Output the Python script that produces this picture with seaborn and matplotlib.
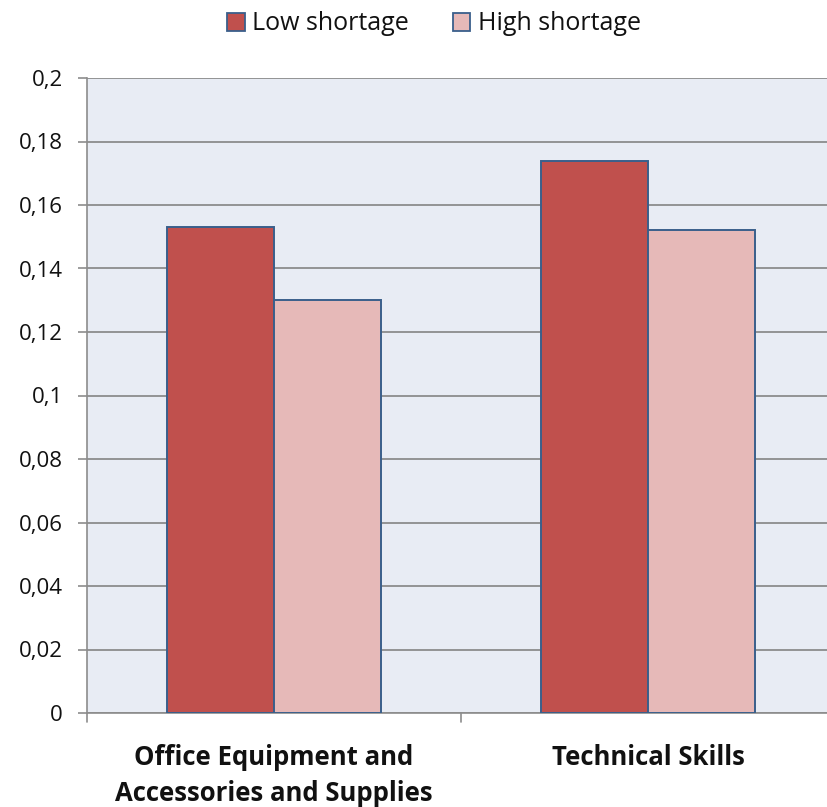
import matplotlib
matplotlib.use("Agg")
import matplotlib.pyplot as plt
import seaborn as sns
import pandas as pd
from matplotlib.patches import Patch

categories = ["Office Equipment and\nAccessories and Supplies", "Technical Skills"]
series = ["Low shortage", "High shortage"]
low_values = [0.153, 0.174]
high_values = [0.130, 0.152]
yticks = [0, 0.02, 0.04, 0.06, 0.08, 0.1, 0.12, 0.14, 0.16, 0.18, 0.2]
ytick_labels = ["0", "0,02", "0,04", "0,06", "0,08", "0,1", "0,12", "0,14", "0,16", "0,18", "0,2"]

colors = ["#C0504D", "#E6B9B8"]
edge = "#3A5F8B"

df = pd.DataFrame({
    "category": categories * 2,
    "series": [series[0]] * 2 + [series[1]] * 2,
    "value": low_values + high_values,
})

sns.set_theme(style="white")
plt.rcParams["font.family"] = ["Open Sans", "DejaVu Sans"]

fig = plt.figure(figsize=(8.27, 8.07), dpi=100)
W, H = 827, 807
left, right, top, bottom = 87, 835, 78, 713
ax = fig.add_axes([left / W, 1 - bottom / H, (right - left) / W, (bottom - top) / H])
ax.set_facecolor("#E8ECF4")

sns.barplot(data=df, x="category", y="value", hue="series", palette=colors,
            saturation=1, width=0.573, gap=0, edgecolor=edge, linewidth=1.4, ax=ax,
            legend=False, errorbar=None, zorder=3)

ax.set_xlim(-0.5, 1.5)
ax.set_ylim(0, 0.2)
ax.set_yticks(yticks)
ax.set_yticklabels(ytick_labels, fontsize=16, color="#111111")
ax.yaxis.grid(True, color="#8C8C8C", linewidth=1.3, zorder=0)
ax.set_axisbelow(True)
ax.set_xticks([0, 1])
ax.set_xticklabels(categories, fontsize=18.5, fontweight="bold", linespacing=1.45,
                   color="#111111")
ax.tick_params(axis="x", length=0, pad=22)
ax.tick_params(axis="y", length=6.5, width=1.2, color="#8C8C8C", direction="out",
               pad=11, left=True)
# category boundary ticks
for xb in [-0.5, 0.5, 1.5]:
    ax.plot([xb, xb], [0, -0.0029], color="#8C8C8C", lw=1.2, clip_on=False)
ax.set_xlabel("")
ax.set_ylabel("")
for s in ["top", "right"]:
    ax.spines[s].set_visible(False)
ax.spines["left"].set_color("#8C8C8C")
ax.spines["bottom"].set_color("#8C8C8C")
ax.spines["left"].set_linewidth(1.2)
ax.spines["bottom"].set_linewidth(1.2)

handles = [Patch(facecolor=c, edgecolor=edge, linewidth=1.3) for c in colors]
leg = fig.legend(handles, series, loc="center", bbox_to_anchor=(0.525, 1 - 24 / H), ncol=2,
                 frameon=False, fontsize=18, handlelength=0.7, handleheight=0.7,
                 handletextpad=0.3, columnspacing=1.75)
for t in leg.get_texts():
    t.set_color("#111111")

fig.savefig("out.png", dpi=100)
